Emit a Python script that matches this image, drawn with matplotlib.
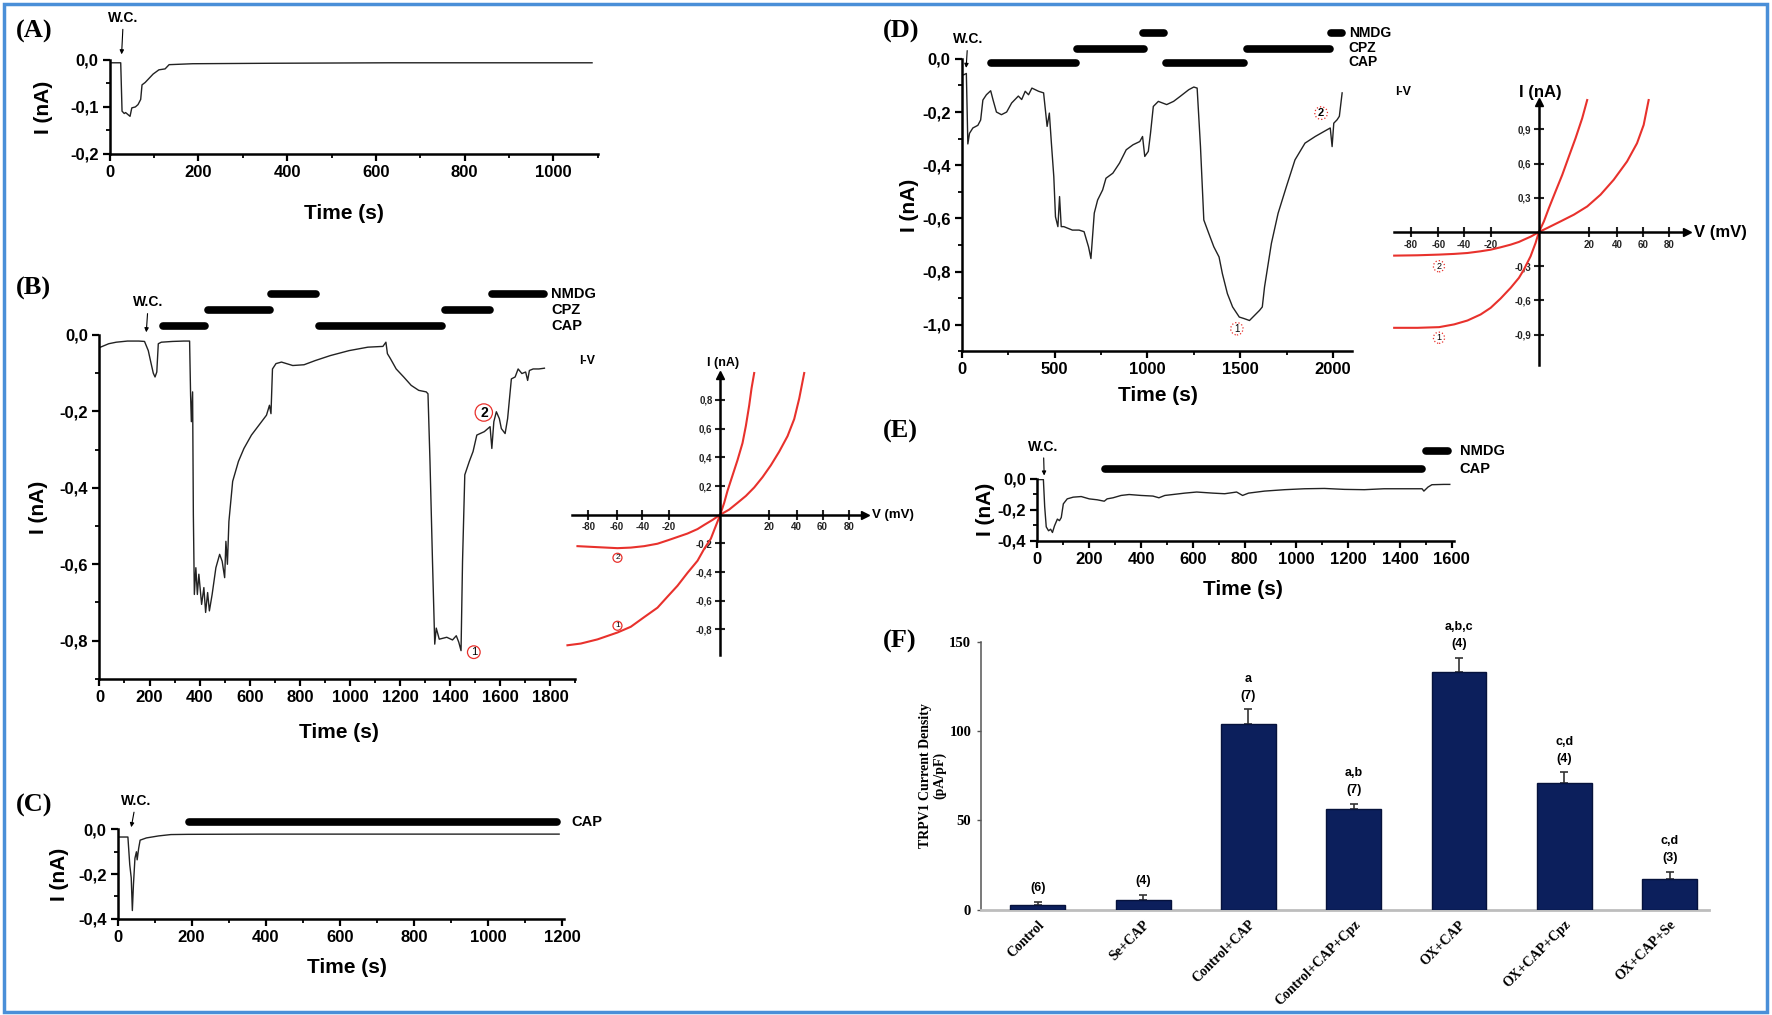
import numpy as np
import matplotlib
matplotlib.use('Agg')
import matplotlib.pyplot as plt
from matplotlib.patches import Rectangle
from matplotlib.ticker import MultipleLocator

SANS = ['Liberation Sans', 'DejaVu Sans']
SERIF = ['Liberation Serif', 'DejaVu Serif']
plt.rcParams['font.family'] = SANS
plt.rcParams['font.weight'] = 'bold'

### data
# (A) whole cell, no drug
a_t = [2, 25, 28, 33, 36, 41, 46, 50, 58, 64, 70, 73, 80, 89, 98, 111, 125, 134, 187, 365, 633, 1087]
a_i = [-0.006, -0.006, -0.109, -0.114, -0.112, -0.116, -0.12, -0.102, -0.10, -0.095, -0.084, -0.053,
       -0.048, -0.039, -0.03, -0.021, -0.019, -0.01, -0.008, -0.007, -0.006, -0.006]

# (B) CAP / CPZ / NMDG protocol
b_t = [4, 37, 67, 112, 157, 180, 195, 205, 215, 222, 229, 235, 247, 292, 337, 360, 364, 367, 372, 375,
       379, 385, 391, 397, 408, 417, 424, 432, 439, 450, 465, 480, 490, 500, 505, 511, 517, 532, 555, 577,
       607, 637, 667, 679, 685, 691, 705, 727, 772, 817, 862, 922, 997, 1072, 1132, 1144, 1150, 1162, 1185,
       1215, 1245, 1275, 1305, 1312, 1320, 1330, 1339, 1345, 1357, 1387, 1410, 1425, 1435, 1444, 1450,
       1459, 1477, 1492, 1507, 1537, 1560, 1567, 1575, 1585, 1597, 1605, 1620, 1630, 1645, 1660, 1672,
       1687, 1702, 1710, 1717, 1732, 1755, 1777]
b_i = [-0.032, -0.023, -0.019, -0.016, -0.016, -0.017, -0.041, -0.071, -0.10, -0.11, -0.097, -0.023,
       -0.019, -0.017, -0.016, -0.016, -0.158, -0.227, -0.149, -0.47, -0.679, -0.609, -0.679, -0.626,
       -0.705, -0.661, -0.726, -0.674, -0.722, -0.679, -0.609, -0.574, -0.592, -0.635, -0.54, -0.60,
       -0.488, -0.383, -0.331, -0.297, -0.262, -0.236, -0.21, -0.184, -0.206, -0.089, -0.075, -0.071,
       -0.08, -0.078, -0.067, -0.054, -0.041, -0.032, -0.03, -0.019, -0.049, -0.062, -0.089, -0.11,
       -0.132, -0.145, -0.149, -0.154, -0.331, -0.592, -0.809, -0.767, -0.796, -0.791, -0.798, -0.787,
       -0.804, -0.826, -0.592, -0.366, -0.331, -0.305, -0.262, -0.253, -0.24, -0.297, -0.227, -0.201,
       -0.219, -0.245, -0.258, -0.219, -0.115, -0.11, -0.089, -0.101, -0.097, -0.119, -0.093, -0.089,
       -0.089, -0.087]
b_drug = ['CAP', 'CPZ', 'NMDG', 'CAP', 'CPZ', 'NMDG']
b_on = [255, 435, 685, 877, 1380, 1567]
b_off = [420, 680, 865, 1369, 1560, 1777]

# (B) inset I-V curves (drawn axis units)
ivb_v1 = [-114.5, -104.5, -92, -77, -67, -57, -47, -39.5, -32, -24.5, -17, -12, -7, -4.5, -2, 0, 3,
          5.5, 9.25, 13, 16.75, 19.25, 21.75, 23.5, 25.5]
ivb_i1 = [-0.91, -0.898, -0.869, -0.821, -0.781, -0.714, -0.648, -0.571, -0.495, -0.405, -0.321,
          -0.238, -0.167, -0.107, -0.048, 0, 0.083, 0.167, 0.274, 0.381, 0.50, 0.619, 0.762, 0.881, 0.988]
ivb_v2 = [-107, -92, -77, -67, -57, -47, -39.5, -32, -24.5, -17, -12, -5.75, 0, 6.75, 13, 19.25, 25.5,
          31.75, 38, 44.25, 50.5, 55.5, 59.25, 63]
ivb_i2 = [-0.219, -0.226, -0.233, -0.229, -0.219, -0.202, -0.179, -0.155, -0.131, -0.10, -0.071,
          -0.036, 0, 0.036, 0.083, 0.131, 0.19, 0.262, 0.345, 0.44, 0.548, 0.667, 0.81, 0.988]
ivb_xpos = [-99, -77.5, -58.25, -38.25, 36.75, 57.25, 76.75, 96.75]
ivb_xlab = ['-80', '-60', '-40', '-20', '20', '40', '60', '80']
ivb_ypos = [0.8, 0.6, 0.4, 0.2, -0.2, -0.4, -0.6, -0.8]
ivb_ylab = ['0,8', '0,6', '0,4', '0,2', '-0,2', '-0,4', '-0,6', '-0,8']

# (C) CAP only
c_t = [2, 28, 33, 37, 40, 43, 47, 51, 53, 57, 61, 78, 111, 144, 189, 388, 610, 832, 1192]
c_i = [-0.034, -0.034, -0.158, -0.217, -0.363, -0.246, -0.129, -0.1, -0.136, -0.085, -0.048, -0.038,
       -0.029, -0.023, -0.022, -0.021, -0.021, -0.021, -0.021]
c_drug = ['CAP']
c_on = [194]
c_off = [1187]

# (D) OX group protocol
d_t = [0, 11, 25, 33, 42, 60, 87, 102, 114, 133, 156, 169, 187, 214, 242, 269, 287, 305, 323, 342, 360,
       378, 396, 414, 441, 460, 472, 483, 496, 505, 518, 527, 536, 550, 596, 632, 659, 683, 696, 714,
       732, 759, 777, 814, 850, 886, 923, 959, 974, 986, 1005, 1017, 1032, 1059, 1104, 1141, 1177, 1223,
       1250, 1268, 1286, 1304, 1331, 1358, 1386, 1404, 1431, 1459, 1477, 1495, 1522, 1550, 1577, 1604,
       1619, 1631, 1668, 1704, 1749, 1795, 1849, 1904, 1967, 1985, 1995, 2004, 2022, 2034, 2049]
d_i = [-0.06, -0.06, -0.055, -0.32, -0.28, -0.26, -0.25, -0.23, -0.155, -0.135, -0.12, -0.155, -0.20,
       -0.21, -0.20, -0.166, -0.153, -0.14, -0.153, -0.122, -0.135, -0.11, -0.116, -0.122, -0.128,
       -0.254, -0.204, -0.317, -0.443, -0.594, -0.631, -0.518, -0.631, -0.631, -0.644, -0.644, -0.65,
       -0.707, -0.751, -0.58, -0.531, -0.493, -0.449, -0.43, -0.392, -0.342, -0.323, -0.311, -0.292,
       -0.367, -0.348, -0.279, -0.179, -0.16, -0.172, -0.16, -0.141, -0.116, -0.106, -0.11, -0.33,
       -0.606, -0.657, -0.707, -0.745, -0.808, -0.883, -0.933, -0.952, -0.971, -0.977, -0.984, -0.965,
       -0.946, -0.933, -0.858, -0.694, -0.581, -0.48, -0.38, -0.317, -0.292, -0.267, -0.26, -0.33,
       -0.242, -0.229, -0.216, -0.128]
d_drug = ['CAP', 'CPZ', 'NMDG', 'CAP', 'CPZ', 'NMDG']
d_on = [160, 623, 977, 1101, 1537, 1991]
d_off = [614, 981, 1090, 1519, 1985, 2049]

# (D) inset I-V curves
ivd_v1 = [-113, -94.8, -77.9, -66.2, -55.8, -45.5, -37.7, -29.9, -22.1, -15.6, -11.7, -6.5, -2.6, 0,
          3.9, 7.8, 13, 18.2, 23.4, 28.6, 33.8, 37.7]
ivd_i1 = [-0.84, -0.84, -0.834, -0.81, -0.776, -0.723, -0.665, -0.583, -0.49, -0.402, -0.329, -0.213,
          -0.096, 0, 0.093, 0.21, 0.356, 0.50, 0.662, 0.822, 0.997, 1.157]
ivd_v2 = [-113, -94.8, -77.9, -66.2, -55.8, -45.5, -37.7, -29.9, -22.1, -15.6, -11.7, -6.5, -2.6, 0,
          6.5, 16.9, 27.3, 37.7, 48.1, 58.4, 68.8, 76.6, 81.8, 85.7]
ivd_i2 = [-0.207, -0.204, -0.198, -0.192, -0.184, -0.169, -0.155, -0.134, -0.111, -0.087, -0.067,
          -0.041, -0.017, 0, 0.035, 0.093, 0.152, 0.224, 0.327, 0.458, 0.618, 0.778, 0.939, 1.157]
ivd_xpos = [-100, -78.4, -58.4, -37.7, 39, 61, 81.3, 101.3]
ivd_xlab = ['-80', '-60', '-40', '-20', '20', '40', '60', '80']
ivd_ypos = [0.9, 0.6, 0.3, -0.3, -0.6, -0.9]
ivd_ylab = ['0,9', '0,6', '0,3', '-0,3', '-0,6', '-0,9']

# (E) OX group, CAP only
e_t = [3, 23, 28, 34, 43, 51, 58, 66, 77, 85, 92, 100, 115, 138, 169, 200, 231, 258, 269, 292, 323,
       354, 400, 446, 469, 492, 523, 569, 615, 677, 723, 769, 792, 815, 877, 954, 1031, 1108, 1185, 1262,
       1338, 1415, 1485, 1492, 1508, 1523, 1569, 1592]
e_i = [-0.006, -0.006, -0.18, -0.31, -0.335, -0.325, -0.346, -0.303, -0.26, -0.27, -0.25, -0.162,
       -0.13, -0.119, -0.115, -0.13, -0.136, -0.145, -0.13, -0.123, -0.108, -0.102, -0.108, -0.112,
       -0.123, -0.108, -0.102, -0.093, -0.086, -0.093, -0.097, -0.086, -0.108, -0.093, -0.08, -0.071,
       -0.065, -0.063, -0.069, -0.071, -0.065, -0.065, -0.065, -0.08, -0.054, -0.039, -0.037, -0.037]
e_drug = ['CAP', 'NMDG']
e_on = [262, 1500]
e_off = [1485, 1585]

# (F) TRPV1 current density
f_groups = ['Control', 'Se+CAP', 'Control+CAP', 'Control+CAP+Cpz', 'OX+CAP', 'OX+CAP+Cpz', 'OX+CAP+Se']
f_mean = [2.4, 5.2, 103.7, 56.1, 132.9, 70.8, 17.0]
f_sem = [2.2, 3.3, 8.5, 3.2, 8.0, 6.1, 4.3]
f_n = [6, 4, 7, 7, 4, 4, 3]
f_sig = ['', '', 'a', 'a,b', 'a,b,c', 'c,d', 'c,d']

RED = '#e8312c'
W0, H0 = 1568.0, 897.0   # layout grid of the reference


def box(l, r, t, b):
    '''axes rect from left/right/top/bottom on the reference grid'''
    return [l / W0, 1 - b / H0, (r - l) / W0, (b - t) / H0]


def trace_axes(rect, xlim, ylim, xmaj, xmin, yt, ytl, ymin, xl_pos, yl_pos):
    ax = fig.add_axes(rect)
    ax.set_xlim(*xlim)
    ax.set_ylim(*ylim)
    ax.patch.set_alpha(0)
    for s in ['top', 'right']:
        ax.spines[s].set_visible(False)
    for s in ['left', 'bottom']:
        ax.spines[s].set_linewidth(1.8)
    ax.xaxis.set_major_locator(MultipleLocator(xmaj))
    ax.xaxis.set_minor_locator(MultipleLocator(xmin))
    ax.set_yticks(yt)
    ax.set_yticklabels(ytl)
    ax.yaxis.set_minor_locator(MultipleLocator(ymin))
    ax.tick_params(which='major', length=5, width=1.6, labelsize=12, pad=3)
    ax.tick_params(which='minor', length=3, width=1.3)
    ax.set_xlabel('Time (s)', fontsize=15, fontweight='bold', va='center')
    ax.set_ylabel('I (nA)', fontsize=15, fontweight='bold', va='center')
    ax.xaxis.set_label_coords(*xl_pos)
    ax.yaxis.set_label_coords(*yl_pos)
    return ax


def drug_bars(ax, drugs, on, off, level):
    for d, t0, t1 in zip(drugs, on, off):
        ax.plot([t0, t1], [level[d], level[d]], color='k', lw=5.5,
                solid_capstyle='round', clip_on=False)


def wc(ax, t_tip, y_tip, t_txt, y_txt):
    ax.annotate('W.C.', xy=(t_tip, y_tip), xytext=(t_txt, y_txt), ha='center', va='center',
                fontsize=10, fontweight='bold', annotation_clip=False,
                arrowprops=dict(arrowstyle='-|>', lw=0.8, color='k', mutation_scale=6,
                                shrinkA=1, shrinkB=0))


def circled(ax, x, y, s, ls='-', fs=8, weight='normal'):
    ax.text(x, y, s, ha='center', va='center', fontsize=fs, fontweight=weight,
            bbox=dict(boxstyle='circle,pad=0.12', fc='none', ec=RED, lw=0.9, ls=ls))


def iv_axes(rect, xlim, ylim, xb, yb, xpos, xlab, ypos, ylab, fs):
    ax = fig.add_axes(rect)
    ax.set_xlim(*xlim)
    ax.set_ylim(*ylim)
    ax.patch.set_alpha(0)
    ax.spines['top'].set_visible(False)
    ax.spines['right'].set_visible(False)
    ax.spines['left'].set_position(('data', 0))
    ax.spines['bottom'].set_position(('data', 0))
    ax.spines['bottom'].set_bounds(*xb)
    ax.spines['left'].set_bounds(*yb)
    for s in ['left', 'bottom']:
        ax.spines[s].set_linewidth(1.8)
    ax.set_xticks(xpos, xlab)
    ax.set_yticks(ypos, ylab)
    ax.tick_params(direction='inout', length=7, width=1.5, labelsize=fs, pad=2, colors='#222222')
    ax.plot(xb[1], 0, '>', color='k', ms=6, clip_on=False)
    ax.plot(0, yb[1], '^', color='k', ms=6, clip_on=False)
    return ax


fig = plt.figure(figsize=(17.72, 10.15), dpi=100)

# ---------------- (A)
ax = trace_axes(box(97, 529, 53, 136), (0, 1100), (-0.2, 0.0), 200, 100,
                [0, -0.1, -0.2], ['0,0', '-0,1', '-0,2'], 0.05, (0.48, -0.64), (-0.135, 0.5))
ax.plot(a_t, a_i, color='#222222', lw=1.0)
wc(ax, 27, 0.012, 31, 0.089)

# ---------------- (B)
ax = trace_axes(box(88, 509, 296, 600), (0, 1900), (-0.9, 0.0), 200, 100,
                [0, -0.2, -0.4, -0.6, -0.8], ['0,0', '-0,2', '-0,4', '-0,6', '-0,8'], 0.1,
                (0.504, -0.155), (-0.128, 0.5))
ax.plot(b_t, b_i, color='#222222', lw=1.0)
lev_b = {'CAP': 0.024, 'CPZ': 0.066, 'NMDG': 0.108}
drug_bars(ax, b_drug, b_on, b_off, lev_b)
for d in ['NMDG', 'CPZ', 'CAP']:
    ax.text(1805, lev_b[d], d, fontsize=10.5, fontweight='bold', va='center')
wc(ax, 187, 0.007, 195, 0.085)
circled(ax, 1535, -0.203, '2', fs=10, weight='bold')
circled(ax, 1495, -0.83, '1', fs=8)

# (B) inset I-V
ax = iv_axes(box(498, 773, 318, 588), (-118, 115), (-1.05, 1.08), (-111, 108.5), (-0.976, 0.976),
             ivb_xpos, ivb_xlab, ivb_ypos, ivb_ylab, 7)
ax.plot(ivb_v1, ivb_i1, color=RED, lw=1.5)
ax.plot(ivb_v2, ivb_i2, color=RED, lw=1.5)
circled(ax, -77, -0.30, '2', ls='-', fs=6)
circled(ax, -77, -0.774, '1', ls='-', fs=6)
ax.text(-106, 1.07, 'I-V', fontsize=9, fontweight='bold', va='center')
ax.text(2, 1.06, 'I (nA)', fontsize=9, fontweight='bold', ha='center', va='center')
ax.text(114, 0, 'V (mV)', fontsize=9.5, fontweight='bold', va='center')

# ---------------- (C)
ax = trace_axes(box(104, 499, 733, 812), (0, 1205), (-0.4, 0.0), 200, 100,
                [0, -0.2, -0.4], ['0,0', '-0,2', '-0,4'], 0.1, (0.513, -0.55), (-0.13, 0.5))
ax.plot(c_t, c_i, color='#222222', lw=1.0)
lev_c = {'CAP': 0.032}
drug_bars(ax, c_drug, c_on, c_off, lev_c)
ax.text(1225, lev_c['CAP'], 'CAP', fontsize=10.5, fontweight='bold', va='center')
wc(ax, 37, 0.01, 50, 0.127)

# ---------------- (D)
ax = trace_axes(box(851, 1196, 52, 310.5), (0, 2100), (-1.1, 0.0), 500, 250,
                [0, -0.2, -0.4, -0.6, -0.8, -1.0], ['0,0', '-0,2', '-0,4', '-0,6', '-0,8', '-1,0'], 0.1,
                (0.503, -0.152), (-0.133, 0.5))
ax.plot(d_t, d_i, color='#222222', lw=1.0)
lev_d = {'CAP': -0.016, 'CPZ': 0.037, 'NMDG': 0.097}
drug_bars(ax, d_drug, d_on, d_off, lev_d)
for d, y in zip(['NMDG', 'CPZ', 'CAP'], [0.096, 0.042, -0.013]):
    ax.text(2085, y, d, fontsize=10, fontweight='bold', va='center')
wc(ax, 24, -0.034, 33, 0.073)
circled(ax, 1482, -1.015, '1', ls=':', fs=7)
circled(ax, 1936, -0.204, '2', ls=':', fs=8, weight='bold')

# (D) inset I-V
ax = iv_axes(box(1228, 1500, 74, 326), (-118, 122), (-1.2, 1.3), (-113, 115.6), (-1.17, 1.14),
             ivd_xpos, ivd_xlab, ivd_ypos, ivd_ylab, 7)
ax.plot(ivd_v1, ivd_i1, color=RED, lw=1.5)
ax.plot(ivd_v2, ivd_i2, color=RED, lw=1.5)
circled(ax, -78, -0.30, '2', ls=':', fs=6.5)
circled(ax, -78, -0.927, '1', ls=':', fs=6.5)
ax.text(-112, 1.23, 'I-V', fontsize=9, fontweight='bold', va='center')
ax.text(1, 1.22, 'I (nA)', fontsize=12, fontweight='bold', ha='center', va='center')
ax.text(121, 0, 'V (mV)', fontsize=12, fontweight='bold', va='center')

# ---------------- (E)
ax = trace_axes(box(918, 1287, 423, 478), (0, 1610), (-0.4, 0.0), 200, 100,
                [0, -0.2, -0.4], ['0,0', '-0,2', '-0,4'], 0.1, (0.493, -0.78), (-0.124, 0.5))
ax.plot(e_t, e_i, color='#222222', lw=1.0)
lev_e = {'CAP': 0.06, 'NMDG': 0.175}
drug_bars(ax, e_drug, e_on, e_off, lev_e)
for d in ['NMDG', 'CAP']:
    ax.text(1630, lev_e[d], d, fontsize=10.5, fontweight='bold', va='center')
wc(ax, 26, 0.02, 23, 0.205)

# ---------------- (F)
axf = fig.add_axes(box(868, 1512, 567, 804))
xs = np.arange(len(f_groups))
tops = np.array(f_mean) + np.array(f_sem)
axf.errorbar(xs, f_mean, yerr=[np.zeros(len(xs)), f_sem], fmt='none', ecolor='#333333',
             elinewidth=1.2, capsize=3, capthick=1.2, zorder=2)
axf.bar(xs, f_mean, width=0.52, color='#0c1f5c', edgecolor='#06123c', lw=1.0, zorder=3)
axf.set_xlim(-0.54, 6.37)
axf.set_ylim(0, 150)
axf.spines['top'].set_visible(False)
axf.spines['right'].set_visible(False)
axf.spines['left'].set_color('#555555')
axf.spines['left'].set_linewidth(1.1)
axf.spines['bottom'].set_color('#bdbdbd')
axf.spines['bottom'].set_linewidth(2.0)
axf.set_yticks([0, 50, 100, 150])
axf.set_yticklabels(['0', '50', '100', '150'], family=SERIF, fontsize=10.5, fontweight='bold')
axf.set_xticks(xs)
axf.set_xticklabels(f_groups, family=SERIF, fontsize=10, fontweight='bold',
                    rotation=45, ha='right', rotation_mode='anchor')
axf.tick_params(axis='x', length=0, pad=6)
axf.tick_params(axis='y', length=3, width=1, color='#555555', pad=4)
axf.set_ylabel('TRPV1 Current Density\n(pA/pF)', family=SERIF, fontsize=10, fontweight='bold',
               va='center', linespacing=1.1)
axf.yaxis.set_label_coords(-0.066, 0.5)
for i in xs:
    axf.text(i, tops[i] + 7.5, '(%d)' % f_n[i], ha='center', va='center', fontsize=9,
             fontweight='bold')
    if f_sig[i]:
        axf.text(i, tops[i] + 17, f_sig[i], ha='center', va='center', fontsize=9,
                 fontweight='bold')

# panel letters
for lab, x, y in [('(A)', 14, 28), ('(B)', 14, 255), ('(C)', 14, 712),
                  ('(D)', 781, 28), ('(E)', 781, 381), ('(F)', 781, 567)]:
    fig.text(x / W0, 1 - y / H0, lab, family=SERIF, fontsize=19, fontweight='bold', va='center')

# outer frame
fig.patches.append(Rectangle((0.002, 0.003), 0.995, 0.993, transform=fig.transFigure, fill=False,
                             edgecolor='#4a8fd8', lw=2.5))

fig.savefig('out.png', dpi=100)
